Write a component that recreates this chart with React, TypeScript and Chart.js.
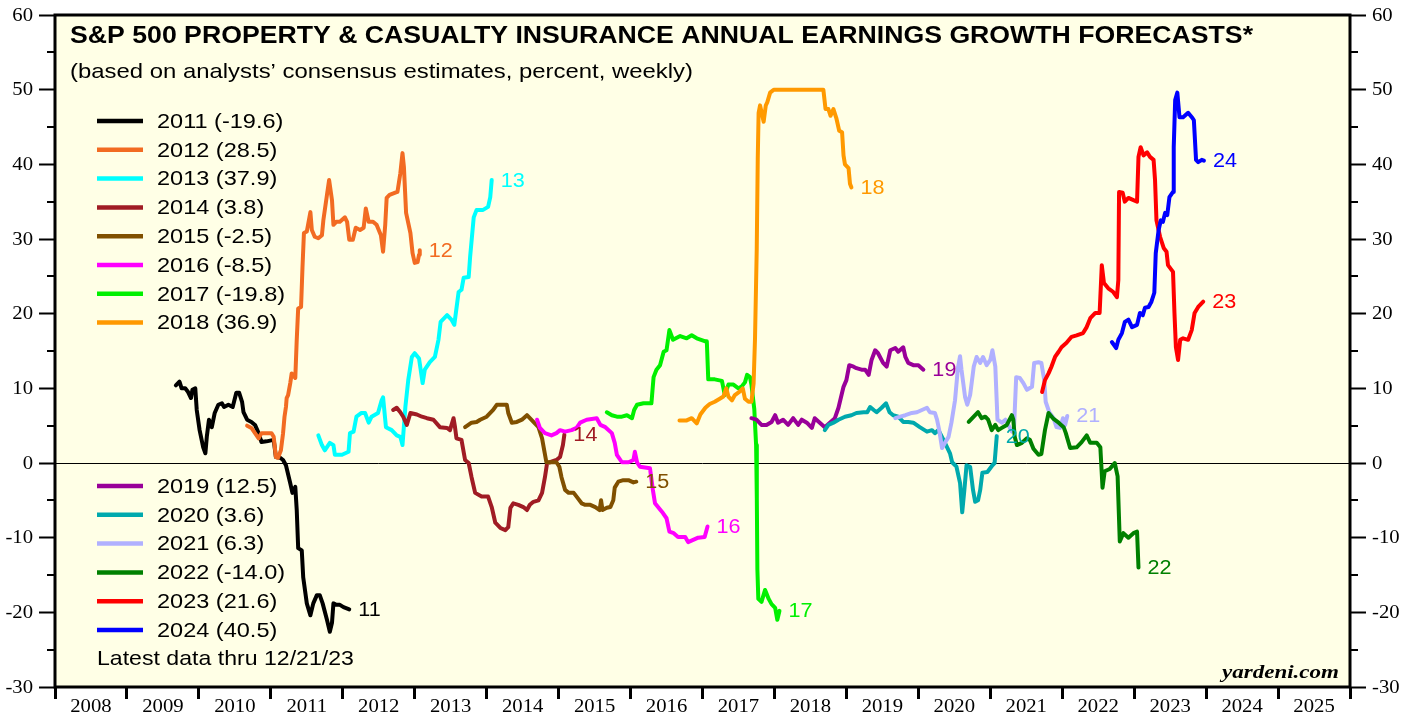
import React, { useEffect, useRef } from "react";
import { Chart, registerables } from "chart.js";

Chart.register(...registerables);

// ---------- DATA (x = decimal year, y = forecast growth, %) ----------
const fc2011: [number, number][] = [
  [2009.68, 10.4], [2009.73, 10.9], [2009.76, 10.0], [2009.81, 10.0], [2009.85, 9.5], [2009.89, 8.7],
  [2009.91, 9.8], [2009.95, 10.0], [2009.97, 7.1], [2010.01, 4.4], [2010.06, 2.1], [2010.09, 1.3],
  [2010.11, 3.5], [2010.14, 5.8], [2010.18, 4.8], [2010.22, 6.7], [2010.27, 7.8], [2010.32, 8.0],
  [2010.35, 7.5], [2010.41, 7.8], [2010.47, 7.5], [2010.52, 9.4], [2010.56, 9.4], [2010.6, 8.2],
  [2010.62, 6.8], [2010.67, 5.8], [2010.73, 5.5], [2010.78, 5.1], [2010.83, 4.0], [2010.87, 2.8],
  [2010.94, 2.9], [2011.04, 3.1], [2011.07, 0.8], [2011.13, 0.7], [2011.17, 0.4], [2011.21, -0.3],
  [2011.27, -2.7], [2011.3, -4.0], [2011.34, -3.2], [2011.36, -6.3], [2011.38, -11.4], [2011.43, -11.7],
  [2011.45, -15.3], [2011.5, -18.8], [2011.55, -20.4], [2011.59, -18.8], [2011.64, -17.7], [2011.68, -17.7],
  [2011.72, -18.8], [2011.78, -21.0], [2011.82, -22.6], [2011.85, -21.4], [2011.87, -18.8], [2011.91, -19.0],
  [2011.96, -19.0], [2012.01, -19.3], [2012.09, -19.6],
];
const fc2012: [number, number][] = [
  [2010.67, 5.0], [2010.73, 4.7], [2010.78, 4.0], [2010.83, 3.3], [2010.87, 4.0], [2010.94, 4.0],
  [2011.01, 4.0], [2011.04, 3.5], [2011.07, 0.8], [2011.1, 0.7], [2011.14, 1.7], [2011.17, 4.0],
  [2011.19, 6.2], [2011.21, 7.5], [2011.22, 8.7], [2011.24, 9.1], [2011.27, 10.7], [2011.29, 12.0],
  [2011.34, 11.4], [2011.36, 16.5], [2011.38, 20.7], [2011.42, 20.9], [2011.44, 26.2], [2011.46, 30.8],
  [2011.5, 31.0], [2011.55, 33.6], [2011.57, 31.2], [2011.61, 30.3], [2011.66, 30.1], [2011.71, 30.5],
  [2011.73, 32.5], [2011.78, 35.9], [2011.81, 37.9], [2011.85, 35.2], [2011.87, 31.9], [2011.91, 32.3],
  [2011.96, 32.3], [2012.03, 32.9], [2012.06, 32.3], [2012.09, 29.9], [2012.14, 29.9], [2012.18, 31.5],
  [2012.24, 31.2], [2012.29, 31.5], [2012.32, 34.1], [2012.36, 32.3], [2012.42, 32.3], [2012.47, 31.9],
  [2012.53, 30.5], [2012.56, 28.3], [2012.59, 31.9], [2012.61, 35.5], [2012.65, 35.9], [2012.73, 36.2],
  [2012.76, 36.3], [2012.8, 38.8], [2012.83, 41.5], [2012.85, 39.6], [2012.88, 33.5], [2012.94, 30.8],
  [2012.97, 28.1], [2013.0, 26.8], [2013.04, 26.9], [2013.06, 27.9], [2013.07, 28.5],
];
const fc2013: [number, number][] = [
  [2011.66, 3.7], [2011.71, 2.4], [2011.75, 1.7], [2011.82, 2.7], [2011.87, 2.4], [2011.89, 1.1],
  [2011.99, 1.1], [2012.08, 1.5], [2012.1, 4.0], [2012.15, 4.2], [2012.19, 6.2], [2012.26, 6.7],
  [2012.31, 6.7], [2012.36, 5.4], [2012.4, 6.2], [2012.49, 6.7], [2012.54, 8.4], [2012.56, 8.8],
  [2012.6, 4.8], [2012.68, 4.4], [2012.75, 3.7], [2012.8, 3.5], [2012.83, 2.4], [2012.87, 7.5],
  [2012.91, 11.1], [2012.96, 14.2], [2013.0, 14.7], [2013.06, 14.0], [2013.11, 10.7], [2013.14, 12.5],
  [2013.21, 13.5], [2013.28, 14.2], [2013.33, 16.5], [2013.36, 18.9], [2013.45, 19.8], [2013.51, 19.2],
  [2013.55, 18.5], [2013.61, 22.9], [2013.65, 23.2], [2013.68, 24.8], [2013.75, 24.9], [2013.77, 27.6],
  [2013.82, 32.9], [2013.86, 33.9], [2013.95, 33.9], [2014.02, 34.3], [2014.05, 35.6], [2014.07, 37.9],
];
const fc2014: [number, number][] = [
  [2012.7, 7.1], [2012.75, 7.4], [2012.8, 6.8], [2012.84, 6.2], [2012.89, 5.1], [2012.94, 6.7],
  [2013.03, 6.5], [2013.1, 6.2], [2013.17, 6.0], [2013.26, 5.8], [2013.35, 4.8], [2013.45, 4.7],
  [2013.49, 4.4], [2013.54, 6.0], [2013.56, 4.8], [2013.58, 3.3], [2013.65, 3.1], [2013.7, 0.4],
  [2013.75, 0.0], [2013.79, -1.9], [2013.84, -4.0], [2013.93, -4.5], [2014.02, -4.5], [2014.07, -5.9],
  [2014.12, -8.0], [2014.19, -8.7], [2014.26, -9.0], [2014.3, -8.6], [2014.33, -6.0], [2014.37, -5.4],
  [2014.44, -5.6], [2014.51, -5.9], [2014.56, -6.3], [2014.6, -5.6], [2014.65, -5.2], [2014.72, -5.0],
  [2014.77, -4.0], [2014.81, -1.9], [2014.84, 0.0], [2014.88, 0.1], [2014.97, 0.4], [2015.02, 0.8],
  [2015.06, 2.4], [2015.08, 3.8],
];
const fc2015: [number, number][] = [
  [2013.7, 4.8], [2013.79, 5.4], [2013.86, 5.5], [2013.91, 5.8], [2014.0, 6.2], [2014.05, 6.7],
  [2014.09, 7.1], [2014.14, 7.8], [2014.28, 7.8], [2014.3, 6.7], [2014.35, 5.4], [2014.42, 5.5],
  [2014.49, 5.8], [2014.56, 6.4], [2014.6, 6.0], [2014.65, 5.5], [2014.72, 4.8], [2014.77, 3.3],
  [2014.8, 1.7], [2014.83, 0.1], [2014.88, 0.1], [2014.97, 0.1], [2015.01, -0.5], [2015.04, -1.9],
  [2015.09, -3.6], [2015.14, -4.0], [2015.21, -4.0], [2015.25, -4.5], [2015.32, -5.4], [2015.37, -5.6],
  [2015.44, -5.6], [2015.51, -5.9], [2015.57, -6.3], [2015.59, -5.0], [2015.61, -6.3], [2015.67, -6.0],
  [2015.72, -5.9], [2015.76, -5.0], [2015.78, -3.3], [2015.83, -2.5], [2015.9, -2.3], [2015.97, -2.3],
  [2016.04, -2.6], [2016.08, -2.5],
];
const fc2016: [number, number][] = [
  [2014.7, 5.8], [2014.74, 4.7], [2014.81, 4.0], [2014.9, 3.7], [2014.97, 4.0], [2015.02, 4.4],
  [2015.09, 4.2], [2015.18, 4.4], [2015.25, 4.7], [2015.3, 5.4], [2015.39, 5.8], [2015.46, 5.9],
  [2015.53, 6.0], [2015.58, 5.1], [2015.65, 4.8], [2015.74, 4.0], [2015.78, 2.7], [2015.81, 1.1],
  [2015.88, 0.1], [2015.97, 0.1], [2016.04, 0.4], [2016.06, 1.5], [2016.09, 0.1], [2016.13, -0.5],
  [2016.27, -0.7], [2016.31, -3.6], [2016.34, -5.4], [2016.39, -6.0], [2016.45, -6.7], [2016.5, -7.4],
  [2016.54, -9.2], [2016.6, -9.4], [2016.66, -9.9], [2016.76, -9.9], [2016.8, -10.6], [2016.87, -10.3],
  [2016.94, -10.0], [2017.03, -9.9], [2017.07, -8.5],
];
const fc2017: [number, number][] = [
  [2015.67, 6.8], [2015.74, 6.4], [2015.81, 6.2], [2015.88, 6.2], [2015.95, 6.4], [2016.02, 6.0],
  [2016.05, 7.1], [2016.09, 7.8], [2016.18, 8.0], [2016.29, 8.0], [2016.32, 11.5], [2016.36, 12.5],
  [2016.41, 13.1], [2016.46, 14.9], [2016.5, 15.1], [2016.54, 17.8], [2016.59, 16.5], [2016.69, 17.0],
  [2016.78, 16.7], [2016.85, 17.1], [2016.92, 16.7], [2017.04, 16.3], [2017.06, 16.3], [2017.08, 11.2],
  [2017.17, 11.2], [2017.27, 11.0], [2017.31, 9.1], [2017.36, 10.5], [2017.43, 10.5], [2017.5, 10.0],
  [2017.55, 10.3], [2017.59, 10.8], [2017.62, 11.8], [2017.66, 11.5], [2017.68, 10.5], [2017.72, 7.2],
  [2017.745, 2.4], [2017.755, -4.8], [2017.763, -14.3], [2017.776, -18.2], [2017.82, -18.6], [2017.87, -17.0],
  [2017.92, -18.2], [2017.96, -18.9], [2018.01, -19.4], [2018.04, -21.0], [2018.07, -19.8],
];
const fc2018: [number, number][] = [
  [2016.68, 5.7], [2016.78, 5.7], [2016.85, 6.0], [2016.92, 5.3], [2016.97, 6.5], [2017.04, 7.4],
  [2017.1, 7.9], [2017.17, 8.2], [2017.24, 8.6], [2017.29, 8.9], [2017.33, 10.0], [2017.36, 8.9],
  [2017.41, 8.4], [2017.45, 9.1], [2017.52, 9.6], [2017.56, 10.0], [2017.59, 8.6], [2017.64, 8.2],
  [2017.68, 8.2], [2017.71, 10.6], [2017.73, 16.7], [2017.754, 28.7], [2017.768, 40.7], [2017.78, 46.9],
  [2017.8, 47.9], [2017.85, 45.7], [2017.88, 47.9], [2017.9, 48.3], [2017.94, 49.6], [2017.99, 50.0],
  [2018.68, 50.0], [2018.71, 47.4], [2018.75, 47.4], [2018.78, 46.5], [2018.82, 47.4], [2018.86, 46.2],
  [2018.9, 44.5], [2018.94, 44.3], [2018.96, 41.2], [2018.98, 40.0], [2019.03, 39.5], [2019.05, 37.4],
  [2019.07, 36.9],
];
const fc2019: [number, number][] = [
  [2017.68, 6.0], [2017.75, 5.8], [2017.82, 5.1], [2017.89, 5.1], [2017.96, 5.5], [2018.01, 6.4],
  [2018.05, 5.4], [2018.12, 5.8], [2018.19, 5.1], [2018.26, 6.0], [2018.33, 5.1], [2018.38, 5.8],
  [2018.45, 5.4], [2018.52, 4.7], [2018.56, 6.0], [2018.63, 5.4], [2018.7, 4.8], [2018.77, 5.4],
  [2018.84, 6.0], [2018.89, 7.4], [2018.96, 10.2], [2019.0, 11.1], [2019.04, 13.1], [2019.1, 12.9],
  [2019.14, 12.7], [2019.21, 12.5], [2019.26, 12.5], [2019.31, 11.8], [2019.35, 13.8], [2019.4, 15.1],
  [2019.44, 14.7], [2019.51, 13.4], [2019.56, 12.9], [2019.61, 15.1], [2019.68, 15.4], [2019.72, 14.9],
  [2019.79, 15.5], [2019.82, 14.2], [2019.86, 13.4], [2019.93, 13.1], [2020.0, 13.1], [2020.07, 12.5],
];
const fc2020: [number, number][] = [
  [2018.7, 4.4], [2018.75, 5.1], [2018.82, 5.4], [2018.89, 5.8], [2018.98, 6.2], [2019.07, 6.4],
  [2019.14, 6.7], [2019.24, 6.8], [2019.29, 6.8], [2019.33, 7.5], [2019.38, 7.1], [2019.42, 6.8],
  [2019.49, 7.4], [2019.55, 8.0], [2019.6, 6.8], [2019.65, 6.4], [2019.72, 6.2], [2019.79, 5.5],
  [2019.86, 5.5], [2019.93, 5.4], [2020.02, 4.8], [2020.12, 4.2], [2020.19, 4.4], [2020.23, 4.0],
  [2020.28, 4.4], [2020.35, 3.1], [2020.4, 2.1], [2020.44, 1.3], [2020.47, 0.1], [2020.53, -0.5],
  [2020.58, -2.7], [2020.61, -6.6], [2020.64, -3.6], [2020.67, -0.3], [2020.72, -0.5], [2020.76, -3.6],
  [2020.79, -5.2], [2020.83, -5.0], [2020.86, -3.6], [2020.89, -1.3], [2020.96, -1.2], [2021.03, -0.3],
  [2021.06, 0.0], [2021.09, 3.6],
];
const fc2021: [number, number][] = [
  [2019.68, 6.0], [2019.75, 6.2], [2019.82, 6.4], [2019.91, 6.7], [2019.98, 6.8], [2020.05, 7.1],
  [2020.12, 7.4], [2020.16, 6.8], [2020.23, 6.7], [2020.26, 5.8], [2020.29, 4.4], [2020.33, 2.0],
  [2020.37, 2.7], [2020.42, 3.5], [2020.46, 5.4], [2020.51, 8.4], [2020.55, 12.7], [2020.58, 14.3],
  [2020.6, 12.5], [2020.65, 8.8], [2020.68, 7.8], [2020.72, 9.1], [2020.77, 12.9], [2020.81, 14.2],
  [2020.86, 13.4], [2020.9, 14.2], [2020.95, 13.1], [2021.0, 13.8], [2021.03, 15.1], [2021.07, 12.9],
  [2021.1, 5.8], [2021.16, 5.4], [2021.21, 5.8], [2021.25, 5.1], [2021.3, 4.2], [2021.33, 4.7],
  [2021.36, 11.5], [2021.41, 11.4], [2021.46, 10.7], [2021.51, 9.8], [2021.58, 10.2], [2021.61, 13.4],
  [2021.67, 13.5], [2021.71, 13.4], [2021.75, 11.1], [2021.77, 8.2], [2021.82, 6.8], [2021.88, 6.0],
  [2021.92, 4.8], [2021.97, 4.7], [2022.01, 6.0], [2022.04, 5.1], [2022.07, 6.3],
];
const fc2022: [number, number][] = [
  [2020.7, 5.5], [2020.77, 6.2], [2020.83, 6.8], [2020.88, 6.0], [2020.93, 6.2], [2020.97, 5.8],
  [2021.02, 4.4], [2021.07, 5.1], [2021.11, 4.4], [2021.16, 4.7], [2021.23, 5.1], [2021.3, 6.4],
  [2021.32, 5.8], [2021.34, 3.5], [2021.37, 2.4], [2021.44, 2.7], [2021.51, 3.3], [2021.55, 3.1],
  [2021.6, 1.9], [2021.67, 1.1], [2021.71, 1.2], [2021.76, 4.4], [2021.81, 6.7], [2021.88, 5.9],
  [2021.95, 5.4], [2022.02, 4.8], [2022.05, 4.0], [2022.11, 2.0], [2022.2, 2.1], [2022.27, 2.8],
  [2022.34, 3.7], [2022.39, 2.7], [2022.48, 2.7], [2022.53, 2.1], [2022.56, -3.3], [2022.59, -1.1],
  [2022.66, -0.8], [2022.73, 0.0], [2022.77, -1.8], [2022.8, -10.5], [2022.85, -9.4], [2022.92, -10.0],
  [2022.99, -9.4], [2023.04, -9.2], [2023.06, -14.0],
];
const fc2023: [number, number][] = [
  [2021.72, 9.5], [2021.76, 11.1], [2021.81, 12.0], [2021.85, 12.9], [2021.9, 14.2], [2021.95, 14.9],
  [2021.99, 15.5], [2022.06, 16.1], [2022.13, 16.9], [2022.2, 17.1], [2022.29, 17.4], [2022.34, 18.2],
  [2022.39, 19.4], [2022.46, 20.1], [2022.52, 20.1], [2022.55, 26.5], [2022.58, 24.1], [2022.64, 23.4],
  [2022.71, 22.9], [2022.76, 22.2], [2022.78, 24.5], [2022.79, 36.3], [2022.84, 36.2], [2022.87, 35.0],
  [2022.92, 35.5], [2022.99, 35.2], [2023.04, 35.0], [2023.06, 41.0], [2023.09, 42.3], [2023.13, 41.2],
  [2023.18, 41.6], [2023.22, 41.0], [2023.27, 40.6], [2023.29, 37.9], [2023.31, 32.5], [2023.36, 30.3],
  [2023.41, 28.8], [2023.45, 28.3], [2023.47, 26.5], [2023.54, 25.6], [2023.56, 20.1], [2023.58, 15.5],
  [2023.61, 13.8], [2023.64, 16.5], [2023.68, 16.7], [2023.75, 16.5], [2023.8, 17.8], [2023.84, 20.1],
  [2023.89, 20.9], [2023.96, 21.6],
];
const fc2024: [number, number][] = [
  [2022.69, 16.2], [2022.75, 15.4], [2022.78, 16.5], [2022.83, 17.4], [2022.87, 18.9], [2022.92, 19.2],
  [2022.97, 18.2], [2023.04, 18.5], [2023.08, 20.1], [2023.12, 19.8], [2023.15, 20.8], [2023.2, 20.9],
  [2023.24, 21.6], [2023.28, 22.8], [2023.3, 28.1], [2023.34, 31.2], [2023.37, 32.5], [2023.4, 32.3],
  [2023.43, 33.5], [2023.46, 33.2], [2023.49, 35.6], [2023.54, 36.3], [2023.55, 42.3], [2023.57, 48.6],
  [2023.6, 49.6], [2023.63, 46.3], [2023.68, 46.3], [2023.75, 46.9], [2023.81, 46.2], [2023.83, 45.9],
  [2023.86, 40.6], [2023.89, 40.3], [2023.94, 40.6], [2023.97, 40.5],
];

const seriesData = [fc2011, fc2012, fc2013, fc2014, fc2015, fc2016, fc2017, fc2018, fc2019, fc2020, fc2021, fc2022, fc2023, fc2024];
const seriesColors = [
  "#000000", "#F26B22", "#00FFFF", "#A01C24", "#805000", "#FF00FF", "#00F000",
  "#FF9900", "#990099", "#00A9AD", "#B0B0FF", "#008000", "#FF0000", "#0000FF",
];
const legendLabels = [
  "2011 (-19.6)", "2012 (28.5)", "2013 (37.9)", "2014 (3.8)", "2015 (-2.5)", "2016 (-8.5)", "2017 (-19.8)",
  "2018 (36.9)", "2019 (12.5)", "2020 (3.6)", "2021 (6.3)", "2022 (-14.0)", "2023 (21.6)", "2024 (40.5)",
];
const endLabels = ["11", "12", "13", "14", "15", "16", "17", "18", "19", "20", "21", "22", "23", "24"];
const yearLabels = ["2008", "2009", "2010", "2011", "2012", "2013", "2014", "2015", "2016", "2017", "2018", "2019", "2020", "2021", "2022", "2023", "2024", "2025"];

const X_MIN = 2008;
const X_MAX = 2026;
const Y_MIN = -30;
const Y_MAX = 60;
const Y_STEP = 10;

const TITLE = "S&P 500 PROPERTY & CASUALTY INSURANCE ANNUAL EARNINGS GROWTH FORECASTS*";
const SUBTITLE = "(based on analysts\u2019 consensus estimates, percent, weekly)";
const NOTE = "Latest data thru 12/21/23";
const SOURCE = "yardeni.com";

const SANS = '"Liberation Sans", Arial, Helvetica, sans-serif';
const SERIF = '"Liberation Serif", "Times New Roman", Times, serif';
const BG = "#FFFFE6";

function drawText(ctx: CanvasRenderingContext2D, text: string, x: number, y: number, sx: number, align: CanvasTextAlign, baseline: CanvasTextBaseline) {
  ctx.save();
  ctx.translate(x, y);
  ctx.scale(sx, 1);
  ctx.textAlign = align;
  ctx.textBaseline = baseline;
  ctx.fillText(text, 0, 0);
  ctx.restore();
}

function drawFitted(ctx: CanvasRenderingContext2D, text: string, x: number, y: number, width: number, align: CanvasTextAlign) {
  const w = ctx.measureText(text).width;
  drawText(ctx, text, x, y, width / w, align, "alphabetic");
}

const decorPlugin = {
  id: "decor",
  beforeDraw(chart: any) {
    const { ctx, chartArea: a } = chart;
    ctx.save();
    ctx.fillStyle = BG;
    ctx.fillRect(a.left, a.top, a.right - a.left, a.bottom - a.top);
    ctx.restore();
  },
  afterDraw(chart: any) {
    const { ctx, chartArea: a } = chart;
    const xs = chart.scales.x;
    const ys = chart.scales.y;
    ctx.save();
    ctx.fillStyle = "#000";
    ctx.strokeStyle = "#000";

    // minor ticks on both y axes
    ctx.lineWidth = 2;
    for (let v = Y_MIN + Y_STEP / 2; v < Y_MAX; v += Y_STEP) {
      const py = Math.round(ys.getPixelForValue(v));
      ctx.beginPath();
      ctx.moveTo(a.left - 8, py);
      ctx.lineTo(a.left, py);
      ctx.moveTo(a.right, py);
      ctx.lineTo(a.right + 8, py);
      ctx.stroke();
    }

    // frame
    ctx.lineWidth = 3;
    ctx.strokeRect(a.left, a.top, a.right - a.left, a.bottom - a.top);

    // y labels (both sides)
    ctx.font = `18px ${SERIF}`;
    for (let v = Y_MIN; v <= Y_MAX; v += Y_STEP) {
      const py = ys.getPixelForValue(v);
      drawText(ctx, String(v), a.left - 22, py + 1, 1.15, "right", "middle");
      drawText(ctx, String(v), a.right + 22, py + 1, 1.15, "left", "middle");
    }
    // x labels centred in each year
    yearLabels.forEach((lab, i) => {
      const px = xs.getPixelForValue(X_MIN + i + 0.5);
      drawText(ctx, lab, px, a.bottom + 25, 1.15, "center", "alphabetic");
    });

    // title & subtitle
    ctx.font = `bold 24.5px ${SANS}`;
    drawFitted(ctx, TITLE, a.left + 15, 43, 1183, "left");
    ctx.font = `21px ${SANS}`;
    drawFitted(ctx, SUBTITLE, a.left + 15, 78, 623, "left");

    // legend
    const rowsTop = [121, 486];
    const rowStep = 28.8;
    legendLabels.forEach((lab, i) => {
      const group = i < 8 ? 0 : 1;
      const row = group === 0 ? i : i - 8;
      const py = rowsTop[group] + row * rowStep;
      ctx.strokeStyle = seriesColors[i];
      ctx.lineWidth = 4.5;
      ctx.beginPath();
      ctx.moveTo(97, py);
      ctx.lineTo(143, py);
      ctx.stroke();
      ctx.fillStyle = "#000";
      ctx.font = `21px ${SANS}`;
      drawText(ctx, lab, 157, py + 1, 1.12, "left", "middle");
    });
    ctx.font = `21px ${SANS}`;
    drawText(ctx, NOTE, 97, 665, 1.1, "left", "alphabetic");

    // end labels
    ctx.font = `20px ${SANS}`;
    endLabels.forEach((lab, i) => {
      const meta = chart.getDatasetMeta(i);
      const pt = meta.data[meta.data.length - 1];
      if (!pt) return;
      ctx.fillStyle = seriesColors[i];
      drawText(ctx, lab, pt.x + 9, pt.y + 1, 1.08, "left", "middle");
    });

    // source
    ctx.fillStyle = "#000";
    ctx.font = `italic bold 19px ${SERIF}`;
    drawFitted(ctx, SOURCE, a.right - 11, 678, 117, "right");
    ctx.restore();
  },
};

export default function App() {
  const ref = useRef<HTMLCanvasElement | null>(null);
  useEffect(() => {
    if (!ref.current) return;
    const n = seriesData.length;
    const chart = new Chart(ref.current, {
      type: "line",
      data: {
        datasets: seriesData.map((s, i) => ({
          label: legendLabels[i],
          data: s.map(([x, y]) => ({ x, y })),
          borderColor: seriesColors[i],
          backgroundColor: seriesColors[i],
          borderWidth: 4,
          pointRadius: 0,
          tension: 0,
          fill: false,
          borderJoinStyle: "round" as const,
          borderCapStyle: "round" as const,
          order: n - i,
          xAxisID: "x",
          yAxisID: "y",
        })),
      },
      options: {
        responsive: false,
        animation: false,
        devicePixelRatio: 1,
        layout: { padding: { top: 15, left: 0, right: 0, bottom: 0 } },
        plugins: { legend: { display: false }, tooltip: { enabled: false } },
        scales: {
          x: {
            type: "linear",
            position: "bottom",
            min: X_MIN,
            max: X_MAX,
            ticks: { stepSize: 1, display: false, autoSkip: false },
            grid: { drawOnChartArea: false, drawTicks: true, tickLength: 12, tickWidth: 3, tickColor: "#000" },
            border: { display: false },
            afterFit: (s: any) => { s.height = 28; },
          },
          y: {
            type: "linear",
            position: "left",
            min: Y_MIN,
            max: Y_MAX,
            ticks: { stepSize: Y_STEP, display: false },
            grid: {
              drawOnChartArea: true,
              drawTicks: true,
              tickLength: 16,
              tickWidth: 2,
              tickColor: "#000",
              lineWidth: 1,
              color: (c: any) => (c.tick && c.tick.value === 0 ? "#000" : "rgba(0,0,0,0)"),
            },
            border: { display: false },
            afterFit: (s: any) => { s.width = 55; },
          },
          y2: {
            type: "linear",
            position: "right",
            min: Y_MIN,
            max: Y_MAX,
            ticks: { stepSize: Y_STEP, display: false },
            grid: { drawOnChartArea: false, drawTicks: true, tickLength: 16, tickWidth: 2, tickColor: "#000" },
            border: { display: false },
            afterFit: (s: any) => { s.width = 66; },
          },
        },
      },
      plugins: [decorPlugin],
    });
    return () => chart.destroy();
  }, []);
  return (
    <div style={{ position: "fixed", left: 0, top: 0, width: 1416, height: 715, background: "#fff" }}>
      <canvas ref={ref} width={1416} height={715} style={{ display: "block" }} />
    </div>
  );
}
